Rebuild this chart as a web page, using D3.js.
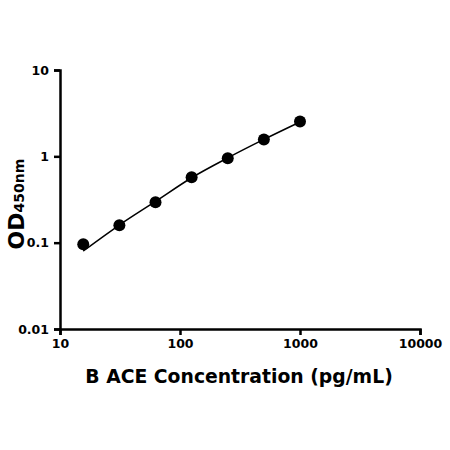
<!DOCTYPE html>
<html>
<head>
<meta charset="utf-8">
<script src="https://cdn.jsdelivr.net/npm/d3@7"></script>
<style>
  body { margin: 0; background: #fff; }
  text { font-family: "DejaVu Sans", sans-serif; font-weight: bold; fill: #000; }
</style>
</head>
<body>
<div id="chart"></div>
<script>
// standards (pg/mL) and measured OD
const concentrations = [15.625, 31.25, 62.5, 125, 250, 500, 1000];
const odValues = [0.096, 0.159, 0.294, 0.571, 0.948, 1.57, 2.54];

// fitted curve
const fitConc = [15.625, 31.25, 62.5, 125, 250, 500, 1000];
const fitOd = [0.080, 0.160, 0.300, 0.565, 0.960, 1.570, 2.500];

const xTicks = [10, 100, 1000, 10000];
const yTicks = [0.01, 0.1, 1, 10];
const xTitle = 'B ACE Concentration (pg/mL)';

const width = 450;
const height = 450;
const margin = { top: 70, right: 30, bottom: 121, left: 60 };

const svg = d3.select('#chart')
  .append('svg')
  .attr('width', width)
  .attr('height', height);

// log scales on both axes
const x = d3.scaleLog()
  .domain([10, 10000])
  .range([margin.left, width - margin.right]);

const y = d3.scaleLog()
  .domain([0.01, 10])
  .range([height - margin.bottom, margin.top]);

// x axis
const xAxis = svg.append('g')
  .attr('transform', `translate(0,${height - margin.bottom})`)
  .call(d3.axisBottom(x).tickValues(xTicks).tickFormat(d3.format('d')).tickSize(6).tickPadding(4));

// y axis
const yAxis = svg.append('g')
  .attr('transform', `translate(${margin.left},0)`)
  .call(d3.axisLeft(y).tickValues(yTicks).tickFormat(d => String(d)).tickSize(6).tickPadding(5));

[xAxis, yAxis].forEach(function (g) {
  g.select('.domain').attr('stroke', '#000').attr('stroke-width', 2.5);
  g.selectAll('.tick line').attr('stroke', '#000').attr('stroke-width', 2.5);
  g.selectAll('.tick text').style('font-size', '12.5px');
});

// fitted curve
const line = d3.line()
  .x((d, i) => x(fitConc[i]))
  .y(d => y(d))
  .curve(d3.curveMonotoneX);

svg.append('path')
  .datum(fitOd)
  .attr('fill', 'none')
  .attr('stroke', '#000')
  .attr('stroke-width', 1.5)
  .attr('d', line);

// data points
svg.append('g')
  .selectAll('circle')
  .data(odValues)
  .join('circle')
  .attr('cx', (d, i) => x(concentrations[i]))
  .attr('cy', d => y(d))
  .attr('r', 6)
  .attr('fill', '#000');

// x title
svg.append('text')
  .attr('x', 239)
  .attr('y', 383)
  .attr('text-anchor', 'middle')
  .style('font-size', '18.8px')
  .text(xTitle);

// y title with subscript
const yTitle = svg.append('text')
  .attr('transform', 'translate(24,204) rotate(-90)')
  .attr('text-anchor', 'middle');
yTitle.append('tspan').style('font-size', '22px').text('OD');
yTitle.append('tspan').style('font-size', '14px').text('450nm');
</script>
</body>
</html>
